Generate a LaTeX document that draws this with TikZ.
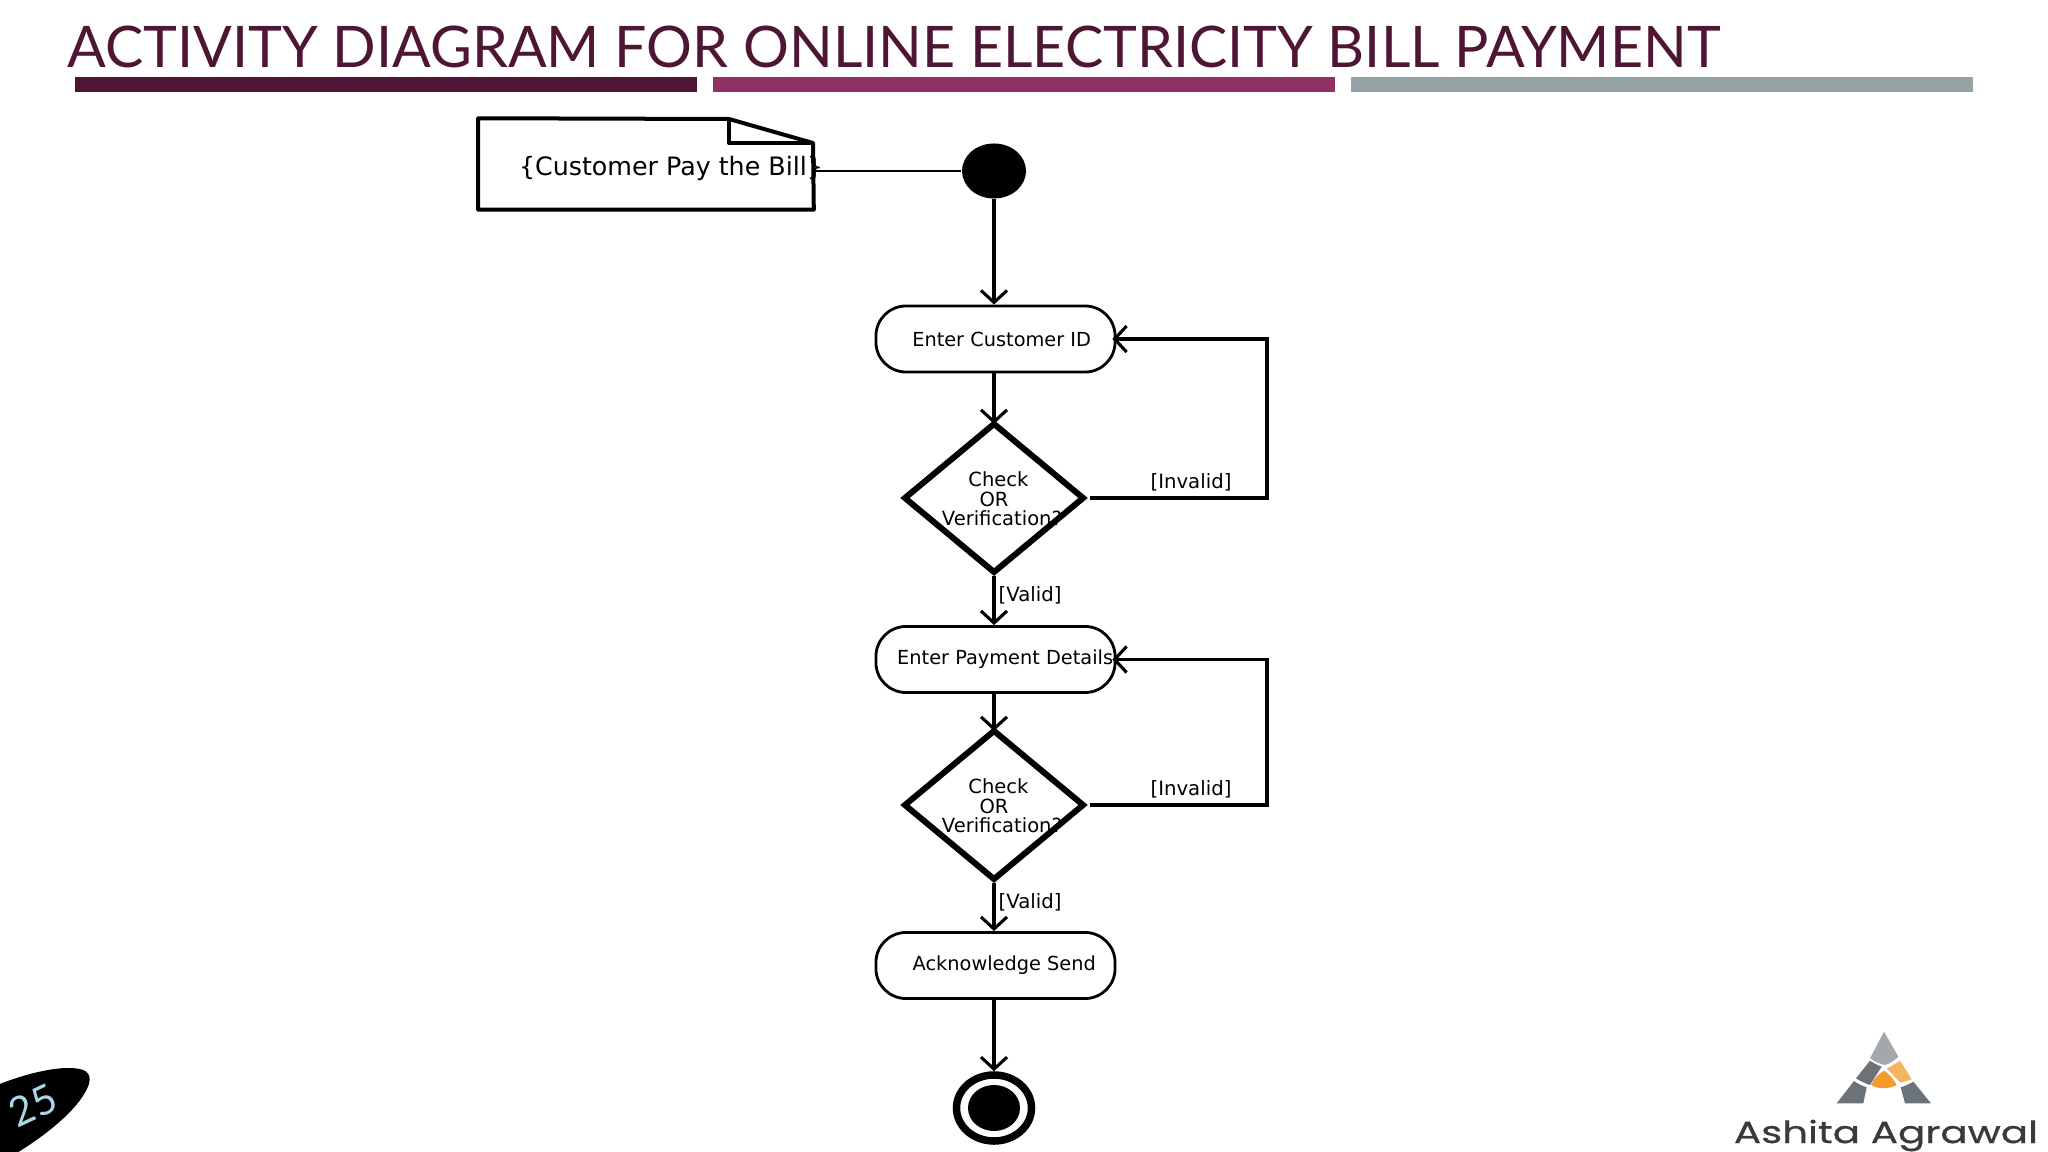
\documentclass[tikz,border=0pt]{standalone}
\usepackage{fontspec}
\setmainfont{DejaVu Sans}
\newfontfamily\titlefont{Lato}
\newfontfamily\logofont[FakeBold=0.6]{Poppins}
\usetikzlibrary{arrows.meta,shapes.geometric}
\definecolor{titlecol}{HTML}{4E1633}
\definecolor{barb}{HTML}{902F62}
\definecolor{barc}{HTML}{95A3A6}
\definecolor{numcol}{HTML}{A8D7E5}
\definecolor{logodark}{HTML}{6B7278}
\definecolor{logolight}{HTML}{A3A8AD}
\definecolor{logoorange}{HTML}{F39A2B}
\definecolor{logotext}{HTML}{3A3A3E}
\tikzset{
	flow/.style={line width=0.031cm,-{Straight Barb[length=0.12cm,width=0.26cm,line width=0.031cm]}},
	action/.style={draw,line width=0.028cm,rounded corners=0.3cm,minimum width=2.39cm,minimum height=0.66cm,inner sep=0pt,font=\fontsize{5.5}{6}\selectfont},
	decision/.style={diamond,draw,line width=0.06cm,outer sep=0pt,minimum width=1.78cm,minimum height=1.48cm,inner sep=0pt},
	decisiontext/.style={align=center,inner sep=0pt,yshift=-0.01cm,font=\fontsize{5.55}{5.6}\selectfont},
	guard/.style={inner sep=0pt,font=\fontsize{5.6}{6}\selectfont}
}
\begin{document}
\begin{tikzpicture}[x=0.01cm,y=-0.01cm]
\useasboundingbox (0,0) rectangle (2048,1152);
\node [anchor=base west,inner sep=0pt,text=titlecol,font=\titlefont\fontsize{16.3}{18}\selectfont] (title) at (67,67.5) {ACTIVITY DIAGRAM FOR ONLINE ELECTRICITY BILL PAYMENT};
\foreach \x/\c in {75/titlecol,713/barb,1351/barc}
{
	\fill [\c] (\x,77) rectangle (\x+622,92);
}

\node [minimum width=3.34cm,minimum height=0.9cm,inner sep=0pt,label={[inner sep=0pt,xshift=0.25cm,yshift=-0.05cm,font=\fontsize{7.2}{8}\selectfont]center:\{Customer Pay the Bill\}}] (note) at (646,164) {};
\draw [line width=0.04cm,line join=round] (note.north west) -- (729,119) -- (813,143) -- (note.south east) -- (note.south west) -- cycle;
\draw [line width=0.04cm,line join=round] (729,119) -- (729,143) -- (813,143);

\node [ellipse,fill=black,minimum width=0.64cm,minimum height=0.55cm,inner sep=0pt] (start) at (994,171) {};
\node [action] (custid) at (995.5,339) {\hspace*{3.5pt}Enter Customer ID};
\node [decision,label={[decisiontext]center:\hspace*{2.5pt}Check\\OR\\\hspace*{4.5pt}Verification?}] (checka) at (994,498) {};
\node [action] (payment) at (995.5,659.5) {\hspace*{5.5pt}Enter Payment Details};
\node [decision,label={[decisiontext]center:\hspace*{2.5pt}Check\\OR\\\hspace*{4.5pt}Verification?}] (checkb) at (994,805) {};
\node [action] (ack) at (995.5,965.5) {\hspace*{5pt}Acknowledge Send};
\node [ellipse,draw,line width=0.075cm,minimum width=0.75cm,minimum height=0.66cm,inner sep=0pt] (finish) at (994,1108) {};
\node [ellipse,fill=black,minimum width=0.52cm,minimum height=0.46cm,inner sep=0pt] (finishdot) at (994,1108) {};

\coordinate (loopa) at (1267,420);
\coordinate (loopb) at (1267,730);
\draw [line width=0.02cm] (start.west) -- (note.east |- start.west);
\draw [flow] (start.south) -- (start.south |- custid.north);
\draw [flow] (checka.north |- custid.south) -- (checka.north);
\draw [flow,shorten <=0.07cm,shorten >=-0.04cm] (checka.east) -| (loopa) |- (custid.east);
\draw [flow,shorten <=0.04cm] (checka.south) -- (checka.south |- payment.north);
\draw [flow] (checkb.north |- payment.south) -- (checkb.north);
\draw [flow,shorten <=0.07cm,shorten >=-0.04cm] (checkb.east) -| (loopb) |- (payment.east);
\draw [flow,shorten <=0.04cm] (checkb.south) -- (checkb.south |- ack.north);
\draw [flow] (finish.north |- ack.south) -- (finish.north);

\node [guard] (invalida) at (1191,482) {[Invalid]};
\node [guard,anchor=west] (valida) at (998,595) {[Valid]};
\node [guard] (invalidb) at (1191,789) {[Invalid]};
\node [guard,anchor=west] (validb) at (998,902) {[Valid]};

\begin{scope}
\clip (0,0) rectangle (2048,1152);
\fill [black] (-10,1088) .. controls (20,1075) and (50,1068) .. (68,1068) .. controls (85,1068) and (92,1072) .. (89,1084) .. controls (80,1110) and (40,1140) .. (5,1160) -- (-10,1160) -- cycle;
\end{scope}
\node [rotate=25,inner sep=0pt,text=numcol,font=\titlefont\fontsize{11.5}{14}\selectfont] (pagenum) at (33,1105) {25};

\begin{scope}[shift={(1650,1000)},scale=1/3]
\fill [logolight] (702,95) -- (745,170) .. controls (730,185) and (715,192) .. (705,195) .. controls (690,192) and (675,185) .. (660,175) -- cycle;
\fill [logodark] (660,182) .. controls (672,190) and (685,197) .. (695,200) -- (660,255) .. controls (645,250) and (630,243) .. (618,235) -- cycle;
\fill [logodark] (612,243) .. controls (625,252) and (638,258) .. (650,262) -- (640,310) -- (560,310) -- cycle;
\fill [logoorange!75] (710,205) .. controls (725,198) and (738,190) .. (750,182) -- (785,238) .. controls (773,243) and (760,246) .. (750,247) -- cycle;
\fill [logoorange] (703,212) .. controls (720,225) and (732,240) .. (740,255) .. controls (715,268) and (685,268) .. (663,255) .. controls (672,235) and (685,222) .. (703,212) -- cycle;
\fill [logodark] (790,245) -- (843,310) -- (765,310) -- (752,262) .. controls (765,258) and (778,252) .. (790,245) -- cycle;
\end{scope}
\node [anchor=base west,inner sep=0pt,xscale=1.32,text=logotext,font=\logofont\fontsize{8.7}{10}\selectfont] (logotitle) at (1733,1143) {Ashita Agrawal};
\end{tikzpicture}
\end{document}
